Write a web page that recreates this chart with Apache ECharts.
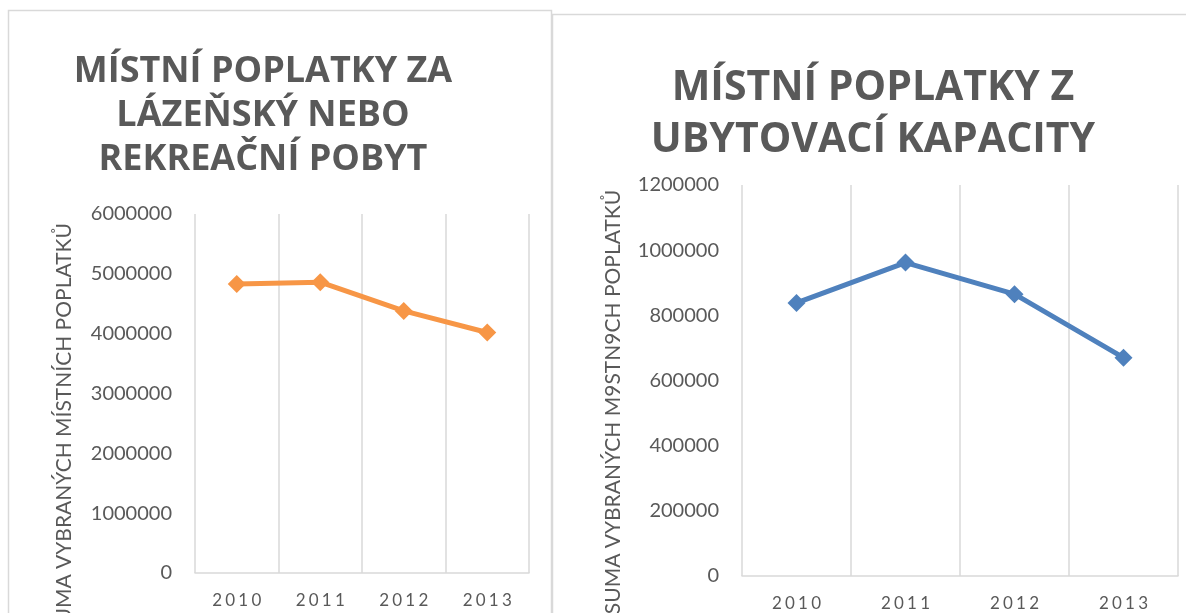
<!DOCTYPE html>
<html>
<head>
<meta charset="utf-8">
<script src="https://cdn.jsdelivr.net/npm/echarts@6/dist/echarts.min.js"></script>
<style>
  html, body { margin: 0; padding: 0; background: #ffffff; }
  #chart { width: 1186px; height: 613px; }
</style>
</head>
<body>
<div id="chart"></div>
<script>
// Years shown on both category axes
const years = ['2010', '2011', '2012', '2013'];

// Fees for spa or recreational stays (left chart)
const spaFees = [4830000, 4860000, 4380000, 4020000];

// Fees from accommodation capacity (right chart)
const lodgingFees = [838000, 962000, 865000, 670000];

// Panel titles and axis titles
const spaTitle = 'MÍSTNÍ POPLATKY ZA\nLÁZEŇSKÝ NEBO\nREKREAČNÍ POBYT';
const lodgingTitle = 'MÍSTNÍ POPLATKY Z\nUBYTOVACÍ KAPACITY';
const spaAxisName = 'SUMA VYBRANÝCH MÍSTNÍCH POPLATKŮ';
const lodgingAxisName = 'SUMA VYBRANÝCH M9STN9CH POPLATKŮ';

const TEXT = '#595959';
const GRID = '#d9d9d9';
const ORANGE = '#F79646';
const BLUE = '#4F81BD';

// spread the year digits apart a little
const YEAR_GAP = '\u2009\u200A';

function xAxisFor(gridIndex) {
  return {
    type: 'category',
    gridIndex: gridIndex,
    data: years,
    boundaryGap: true,
    axisLine: { show: true, lineStyle: { color: GRID, width: 1.5 } },
    axisTick: { show: false },
    splitLine: { show: true, lineStyle: { color: GRID, width: 1.5 } },
    axisLabel: {
      color: TEXT,
      fontFamily: 'Lato',
      fontSize: 17,
      margin: 19,
      formatter: v => v.split('').join(YEAR_GAP)
    }
  };
}

function yAxisFor(gridIndex, max, interval) {
  return {
    type: 'value',
    gridIndex: gridIndex,
    min: 0,
    max: max,
    interval: interval,
    axisLine: { show: false },
    axisTick: { show: false },
    splitLine: { show: false },
    axisLabel: {
      color: TEXT,
      fontFamily: 'Lato',
      fontSize: 20,
      margin: 23,
      formatter: v => String(v)
    }
  };
}

function lineSeries(idx, data, color) {
  return {
    type: 'line',
    xAxisIndex: idx,
    yAxisIndex: idx,
    data: data,
    symbol: 'diamond',
    symbolSize: 18,
    lineStyle: { color: color, width: 5 },
    itemStyle: { color: color },
    emphasis: { disabled: true }
  };
}

const chart = echarts.init(document.getElementById('chart'), null, { renderer: 'canvas' });

chart.setOption({
  animation: false,
  backgroundColor: '#ffffff',
  grid: [
    { left: 195, right: 1186 - 529, top: 214, bottom: 613 - 573 },
    { left: 742, right: 1186 - 1178, top: 185, bottom: 613 - 576 }
  ],
  xAxis: [xAxisFor(0), xAxisFor(1)],
  yAxis: [yAxisFor(0, 6000000, 1000000), yAxisFor(1, 1200000, 200000)],
  series: [
    lineSeries(0, spaFees, ORANGE),
    lineSeries(1, lodgingFees, BLUE)
  ],
  graphic: [
    // panel frames
    {
      type: 'rect', z: -10, silent: true,
      shape: { x: 8.5, y: 10.5, width: 543, height: 700 },
      style: { fill: '#ffffff', stroke: GRID, lineWidth: 1.5 }
    },
    {
      type: 'rect', z: -10, silent: true,
      shape: { x: 552.5, y: 14.5, width: 700, height: 700 },
      style: { fill: '#ffffff', stroke: GRID, lineWidth: 1.5 }
    },
    // panel titles
    {
      type: 'text', silent: true, x: 263, y: 116,
      style: {
        text: spaTitle, fill: TEXT, fontFamily: 'Open Sans', fontWeight: 'bold',
        fontSize: 36, lineHeight: 44, align: 'center', verticalAlign: 'middle'
      }
    },
    {
      type: 'text', silent: true, x: 873, y: 114,
      style: {
        text: lodgingTitle, fill: TEXT, fontFamily: 'Open Sans', fontWeight: 'bold',
        fontSize: 41, lineHeight: 52, align: 'center', verticalAlign: 'middle'
      }
    },
    // vertical axis titles
    {
      type: 'text', silent: true, x: 64, y: 429, rotation: Math.PI / 2,
      style: {
        text: spaAxisName, fill: TEXT, fontFamily: 'Lato', fontSize: 21,
        align: 'center', verticalAlign: 'middle'
      }
    },
    {
      type: 'text', silent: true, x: 613, y: 402, rotation: Math.PI / 2,
      style: {
        text: lodgingAxisName, fill: TEXT, fontFamily: 'Lato', fontSize: 21,
        align: 'center', verticalAlign: 'middle'
      }
    }
  ]
});
</script>
</body>
</html>
